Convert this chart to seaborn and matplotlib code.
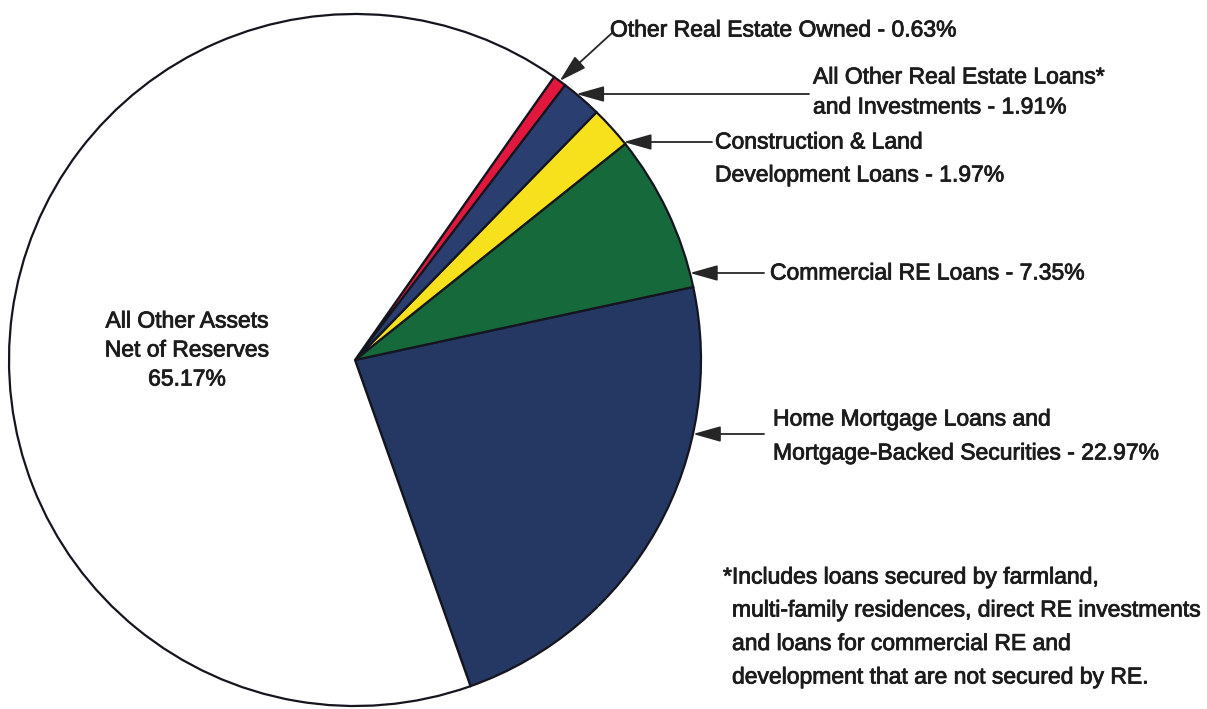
import numpy as np
import matplotlib
matplotlib.use("Agg")
import matplotlib.pyplot as plt
import matplotlib.patheffects as pe
import seaborn as sns

# ---- data ----
categories = [
    "Home Mortgage Loans and Mortgage-Backed Securities",
    "Commercial RE Loans",
    "Construction & Land Development Loans",
    "All Other Real Estate Loans and Investments",
    "Other Real Estate Owned",
    "All Other Assets Net of Reserves",
]
shares = [22.97, 7.35, 1.97, 1.91, 0.63, 65.17]
colors = ["#243863", "#15693a", "#f7e11d", "#2a3f70", "#e2173e", "#ffffff"]

label_home = ["Home Mortgage Loans and", "Mortgage-Backed Securities - 22.97%"]
label_comm = ["Commercial RE Loans - 7.35%"]
label_constr = ["Construction & Land", "Development Loans - 1.97%"]
label_allre = ["All Other Real Estate Loans*", "and Investments - 1.91%"]
label_oreo = ["Other Real Estate Owned - 0.63%"]
label_other = ["All Other Assets", "Net of Reserves", "65.17%"]
footnote_lines = [
    "*Includes loans secured by farmland,",
    "multi-family residences, direct RE investments",
    "and loans for commercial RE and",
    "development that are not secured by RE.",
]

# ---- style ----
sns.set_theme(style="white")
plt.rcParams['font.family'] = ['Liberation Sans', 'DejaVu Sans']
FS = 16.5
TXT = "#1c1c1c"
STROKE = [pe.withStroke(linewidth=0.6, foreground=TXT)]
W, H = 1207, 709

fig = plt.figure(figsize=(W / 100, H / 100), dpi=100)
fig.patch.set_facecolor("white")

# pie geometry in pixels (top-left origin)
cx, cy, r = 355, 360, 346
ax = fig.add_axes([(cx - r) / W, (H - cy - r) / H, 2 * r / W, 2 * r / H])
wedges, _ = ax.pie(shares, colors=colors, startangle=-70.5, counterclock=True,
                   radius=1.0,
                   wedgeprops=dict(edgecolor="#15151f", linewidth=1.6))
ax.set_xlim(-1, 1)
ax.set_ylim(-1, 1)
ax.set_aspect("equal")
ax.axis("off")


def ty(y):
    """top-origin pixel y -> matplotlib figure pixel y"""
    return H - y


def put_lines(lines, x, y0, gap, ha="left"):
    for i, s in enumerate(lines):
        fig.text(x / W, ty(y0 + i * gap) / H, s, fontsize=FS, color=TXT,
                 ha=ha, va="center", path_effects=STROKE)


arrow_kw = dict(arrowstyle="-|>,head_length=0.85,head_width=0.24",
                color="#262626", lw=1.3, shrinkA=0, shrinkB=0,
                mutation_scale=20)


def hz_arrow(y_line, x_start):
    yd = (cy - y_line) / r
    xd = np.sqrt(1 - yd ** 2)
    ax.annotate("", xy=(xd, yd), xycoords="data",
                xytext=(x_start, ty(y_line)), textcoords="figure pixels",
                arrowprops=arrow_kw)


# side labels
put_lines(label_home, 773, 419, 34)
hz_arrow(434, 764)

put_lines(label_comm, 770, 273, 0)
hz_arrow(273, 764)

put_lines(label_constr, 715, 142, 33)
hz_arrow(142, 712)

put_lines(label_allre, 813, 77, 30)
hz_arrow(94, 809)

put_lines(label_oreo, 610, 30, 0)
w = wedges[4]
mid = np.deg2rad((w.theta1 + w.theta2) / 2)
ax.annotate("", xy=(np.cos(mid), np.sin(mid)), xycoords="data",
            xytext=(612, ty(33)), textcoords="figure pixels",
            arrowprops=arrow_kw)

# inside label
put_lines(label_other, 187, 321, 29, ha="center")

# footnote
fig.text(723 / W, ty(577) / H, footnote_lines[0], fontsize=FS, color=TXT,
         ha="left", va="center", path_effects=STROKE)
put_lines(footnote_lines[1:], 732, 610, 33.5)

fig.savefig("out.png", dpi=100, facecolor="white")
